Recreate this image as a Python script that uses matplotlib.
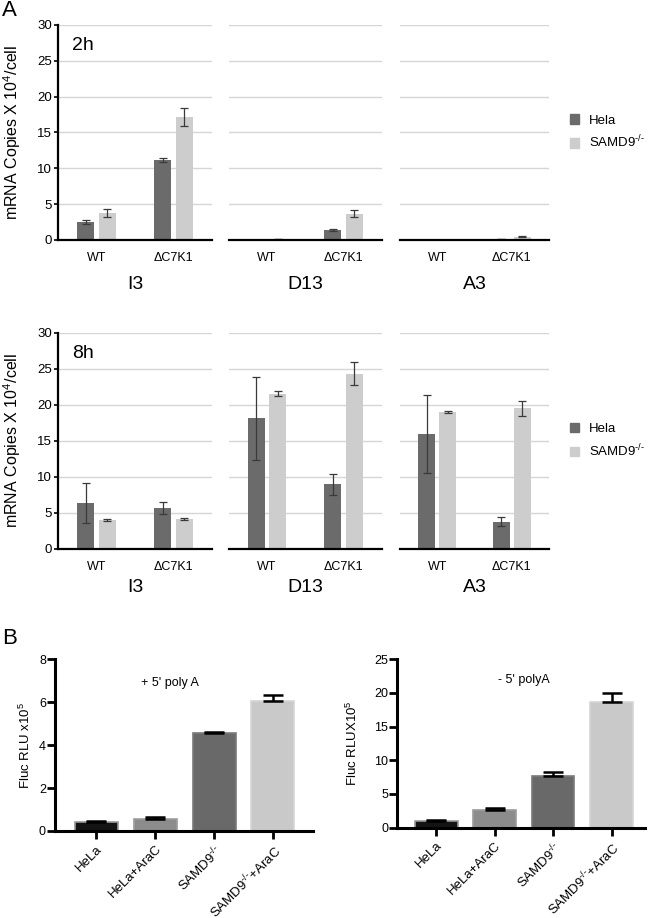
import numpy as np
import matplotlib
matplotlib.use("Agg")
import matplotlib.pyplot as plt
from matplotlib.patches import Patch

plt.rcParams['font.family'] = ['Liberation Sans', 'DejaVu Sans']
plt.rcParams['mathtext.fontset'] = 'custom'
plt.rcParams['mathtext.rm'] = 'Liberation Sans'
plt.rcParams['mathtext.it'] = 'Liberation Sans:italic'
plt.rcParams['mathtext.bf'] = 'Liberation Sans:bold'

KO = '$^{\\mathrm{\u2010/\u2010}}$'

# --- Panel A data (rows: I3, D13, A3 ; cols: WT, dC7K1) ---
viruses = ['I3', 'D13', 'A3']
strains = ['WT', '\u0394C7K1']

hela_2h = [[2.5, 11.15], [0.0, 1.4], [0.0, 0.15]]
hela_2h_err = [[0.3, 0.3], [0.0, 0.1], [0.0, 0.05]]
samd9_2h = [[3.75, 17.15], [0.15, 3.65], [0.0, 0.45]]
samd9_2h_err = [[0.6, 1.2], [0.05, 0.5], [0.0, 0.1]]

hela_8h = [[6.35, 5.65], [18.1, 9.0], [15.9, 3.8]]
hela_8h_err = [[2.75, 0.8], [5.8, 1.45], [5.4, 0.6]]
samd9_8h = [[4.0, 4.15], [21.5, 24.3], [19.0, 19.5]]
samd9_8h_err = [[0.1, 0.2], [0.35, 1.6], [0.2, 1.05]]

# --- Panel B data ---
cells = ['HeLa', 'HeLa+AraC', 'SAMD9' + KO, 'SAMD9' + KO + '+AraC']
plus_polyA = [0.42, 0.58, 4.55, 6.05]
plus_polyA_err = [0.03, 0.06, 0.06, 0.3]
minus_polyA = [0.95, 2.6, 7.7, 18.7]
minus_polyA_err = [0.25, 0.25, 0.6, 1.3]

HELA_C = '#6b6b6b'
SAMD_C = '#cdcdcd'

fig = plt.figure(figsize=(6.5, 9.18), dpi=100)

col_pos = [(0.0892, 0.237), (0.352, 0.2354), (0.615, 0.230)]


def draw_row(bottom, height, hela, hela_err, samd, samd_err, tlabel, name_off):
    axes = []
    for i, (left, width) in enumerate(col_pos):
        ax = fig.add_axes([left, bottom, width, height])
        x = np.arange(len(strains))
        h = np.array(hela[i])
        s = np.array(samd[i])
        ax.bar(x - 0.14, h, 0.22, color=HELA_C, zorder=3)
        ax.bar(x + 0.14, s, 0.22, color=SAMD_C, zorder=3)
        for xx, v, e in zip(x - 0.14, h, hela_err[i]):
            if v > 0:
                ax.errorbar(xx, v, yerr=e, fmt='none', ecolor='#3a3a3a',
                            elinewidth=0.9, capsize=2.6, capthick=0.9, zorder=4)
        for xx, v, e in zip(x + 0.14, s, samd_err[i]):
            if v > 0:
                ax.errorbar(xx, v, yerr=e, fmt='none', ecolor='#3a3a3a',
                            elinewidth=0.9, capsize=2.6, capthick=0.9, zorder=4)
        ax.set_xlim(-0.5, 1.5)
        ax.set_ylim(0, 30)
        ax.set_yticks(range(0, 31, 5))
        ax.yaxis.grid(True, color='#d6d6d6', lw=1.0, zorder=0)
        ax.set_axisbelow(True)
        for sp in ['top', 'right']:
            ax.spines[sp].set_visible(False)
        ax.spines['bottom'].set_linewidth(1.6)
        ax.spines['bottom'].set_zorder(5)
        ax.set_xticks(x)
        ax.set_xticklabels(strains, fontsize=9)
        ax.tick_params(axis='x', length=0, pad=9)
        if i == 0:
            ax.spines['left'].set_linewidth(1.6)
            ax.tick_params(axis='y', length=3, width=1.2, labelsize=9.5, pad=1.5)
            ax.set_ylabel('mRNA Copies X 10$^{4}$/cell', fontsize=11.5)
            ax.yaxis.set_label_coords(-0.225, 0.5)
            ax.text(0.09, 0.905, tlabel, transform=ax.transAxes, fontsize=14,
                    ha='left', va='center')
        else:
            ax.spines['left'].set_visible(False)
            ax.tick_params(axis='y', left=False, labelleft=False)
        ax.text(0.5, -name_off, viruses[i], transform=ax.transAxes,
                fontsize=14, ha='center', va='center')
        axes.append(ax)
    handles = [Patch(color=HELA_C), Patch(color=SAMD_C)]
    axes[-1].legend(handles, ['Hela', 'SAMD9' + KO], loc='center left',
                    bbox_to_anchor=(1.06, 0.5), frameon=False, fontsize=9.5,
                    handlelength=0.7, handleheight=0.7, handletextpad=0.7,
                    labelspacing=0.55)
    return axes


draw_row(0.7386, 0.2342, hela_2h, hela_2h_err, samd9_2h, samd9_2h_err, '2h', 0.205)
draw_row(0.402, 0.2356, hela_8h, hela_8h_err, samd9_8h, samd9_8h_err, '8h', 0.176)

# --- Panel B ---
b_colors = ['#141414', '#8c8c8c', '#696969', '#c9c9c9']
b_edges = ['#9a9a9a', '#9c9c9c', '#7a7a7a', '#d6d6d6']


def draw_luc(ax, vals, errs, ymax, ystep, title, tx, ty, ylabel, lx):
    x = np.arange(len(cells))
    ax.bar(x, vals, 0.73, color=b_colors, edgecolor=b_edges, linewidth=1.2, zorder=2)
    ax.errorbar(x, vals, yerr=[np.zeros(len(vals)), errs], fmt='none', ecolor='black',
                elinewidth=1.8, capsize=7.5, capthick=1.8, zorder=3)
    ax.set_ylim(0, ymax)
    ax.set_yticks(np.arange(0, ymax + 0.1, ystep))
    ax.set_xticks(x)
    ax.set_xticklabels(cells, rotation=45, ha='right', rotation_mode='anchor', fontsize=9.5)
    for sp in ['top', 'right']:
        ax.spines[sp].set_visible(False)
    for sp in ['left', 'bottom']:
        ax.spines[sp].set_linewidth(2.2)
    ax.tick_params(axis='both', direction='out', length=5.5, width=2.0, labelsize=9)
    ax.tick_params(axis='x', labelsize=9.5, pad=3)
    ax.tick_params(axis='y', pad=1)
    ax.text(tx, ty, title, fontsize=9, ha='center', va='center')
    ax.set_ylabel(ylabel, fontsize=9.5)
    ax.yaxis.set_label_coords(lx, 0.5)


axL = fig.add_axes([0.0846, 0.0948, 0.397, 0.187])
axL.set_xlim(-0.7, 3.68)
draw_luc(axL, plus_polyA, plus_polyA_err, 8, 2, "+ 5' poly A", 1.25, 6.9,
         'Fluc RLU x10$^{5}$', -0.085)

axR = fig.add_axes([0.611, 0.0984, 0.382, 0.1834])
axR.set_xlim(-0.67, 3.58)
draw_luc(axR, minus_polyA, minus_polyA_err, 25, 5, "- 5' polyA", 1.5, 21.9,
         'Fluc RLUX10$^{5}$', -0.149)

fig.text(0.003, 1 - 11 / 918, 'A', fontsize=16, ha='left', va='center')
fig.text(0.003, 1 - 639 / 918, 'B', fontsize=16, ha='left', va='center')

fig.savefig('out.png', dpi=100)
